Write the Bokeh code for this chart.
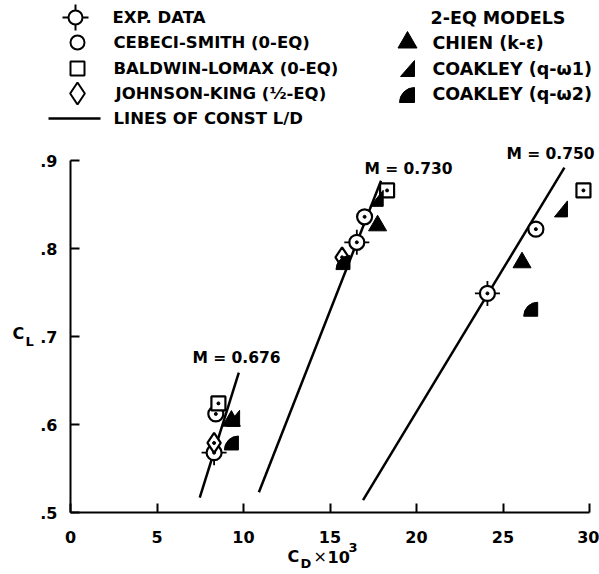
from math import pi
from bokeh.plotting import figure
from bokeh.models import Range1d, FixedTicker, CustomJSTickFormatter, LinearAxis
from bokeh.embed import file_html
from bokeh.resources import INLINE
from bokeh.core.properties import value

# ---------------- data (C_D x 10^3, C_L) ----------------
mach_labels = ["M = 0.676", "M = 0.730", "M = 0.750"]
exp_cd = [8.3, 16.55, 24.1]
exp_cl = [0.568, 0.807, 0.749]
cebeci_cd = [8.4, 17.0, 26.9]
cebeci_cl = [0.612, 0.836, 0.822]
baldwin_cd = [8.55, 18.3, 29.65]
baldwin_cl = [0.624, 0.866, 0.866]
jk_cd = [8.3, 15.7]
jk_cl = [0.579, 0.790]
chien_cd = [9.3, 17.75, 26.1]
chien_cl = [0.604, 0.826, 0.784]
coak1_cd = [9.4, 17.7, 28.35]
coak1_cl = [0.607, 0.857, 0.845]
coak2_cd = [9.3, 15.75, 26.6]
coak2_cl = [0.579, 0.784, 0.731]
ld_cd0 = [7.47, 10.89, 16.91]
ld_cl0 = [0.517, 0.523, 0.514]
ld_cd1 = [9.73, 17.95, 28.55]
ld_cl1 = [0.659, 0.877, 0.892]
x_ticks = [0, 5, 10, 15, 20, 25, 30]
y_ticks = [0.5, 0.6, 0.7, 0.8, 0.9]

FONT = value("DejaVu Sans")

# ---------------- canvas geometry ----------------
W, H = 599, 574
PPX = 519 / 30          # pixels per C_D unit
PPY = 352 / 0.4         # pixels per C_L unit
XS = -70 / PPX
XE = XS + W / PPX
YS = 0.5 - 62 / PPY
YE = YS + H / PPY

def dx(px):
    return XS + px / PPX

def dy(py):
    return YE - py / PPY

p = figure(width=W, height=H, x_range=Range1d(XS, XE), y_range=Range1d(YS, YE),
           x_axis_location=None, y_axis_location=None,
           toolbar_location=None, output_backend="svg", min_border=0)
p.outline_line_color = None
p.grid.visible = False

xax = LinearAxis(fixed_location=0.5, bounds=(0, 30), ticker=FixedTicker(ticks=x_ticks))
yax = LinearAxis(fixed_location=0, bounds=(0.5, 0.9), ticker=FixedTicker(ticks=y_ticks),
                 formatter=CustomJSTickFormatter(code="return tick.toFixed(1).slice(1);"))
for ax in (xax, yax):
    ax.axis_line_width = 2
    ax.major_tick_line_width = 2
    ax.major_tick_in = 9
    ax.major_tick_out = 0
    ax.minor_tick_line_color = None
    ax.major_label_text_font = "DejaVu Sans"
    ax.major_label_text_font_size = "16px"
    ax.major_label_text_font_style = "bold"
    ax.major_label_text_color = "black"
    ax.axis_line_color = "black"
    ax.major_tick_line_color = "black"
xax.major_label_standoff = 18
yax.major_label_standoff = 13
p.add_layout(xax, "below")
p.add_layout(yax, "left")

# lines of constant L/D
p.segment(ld_cd0, ld_cl0, ld_cd1, ld_cl1, line_color="black", line_width=2.5)

# exp data
p.scatter(exp_cd, exp_cl, marker="cross", size=25, line_color="black", line_width=1.8)
p.scatter(exp_cd, exp_cl, marker="circle", size=15, fill_color="white", line_color="black", line_width=2.2)
# zero / half equation models
p.scatter(cebeci_cd, cebeci_cl, marker="circle", size=15, fill_color="white", line_color="black", line_width=2.2)
p.scatter(baldwin_cd, baldwin_cl, marker="square", size=14, fill_color="white", line_color="black", line_width=2.2)
p.scatter(jk_cd, jk_cl, marker="diamond", size=20, fill_color="white", line_color="black", line_width=2.2)
for xs_, ys_ in ((exp_cd, exp_cl), (cebeci_cd, cebeci_cl), (baldwin_cd, baldwin_cl), (jk_cd, jk_cl)):
    p.scatter(xs_, ys_, marker="circle", size=3, fill_color="black", line_color="black")

# two-equation models
p.scatter(chien_cd, chien_cl, marker="triangle", size=18, fill_color="black", line_color="black")
tw, th = 13 / PPX, 16 / PPY
p.patches([[x - tw / 2, x + tw / 2, x + tw / 2] for x in coak1_cd],
          [[y - th / 2, y - th / 2, y + th / 2] for y in coak1_cl],
          fill_color="black", line_color="black")
r = 14
p.wedge([x + (r / 2) / PPX for x in coak2_cd], [y - (r / 2) / PPY for y in coak2_cl],
        radius=r, radius_units="screen", start_angle=pi / 2, end_angle=pi,
        fill_color="black", line_color="black")

# Mach labels
mach_px = [236, 408, 550]
mach_py = [357, 168, 153]
p.text([dx(v) for v in mach_px], [dy(v) for v in mach_py], text=mach_labels, text_font=FONT,
       text_font_size="15.5px", text_font_style="bold", text_align="center",
       text_baseline="middle", text_color="black")

# axis titles (with sub / superscripts)
def txt(px, py, t, size="16px", style="bold"):
    p.text([dx(px)], [dy(py)], text=[t], text_font=FONT, text_font_size=size,
           text_font_style=style, text_align="left", text_baseline="middle", text_color="black")

txt(12, 333, "C")
txt(25, 341, "L", "13px")
txt(287, 556, "C")
txt(300, 563, "D", "13px")
txt(313, 556, "\u00d7", "16px", "normal")
txt(327, 556, "10")
txt(348, 547, "3", "13px")

# ---------------- legend (drawn in the figure, positions in canvas pixels) ----------------
p.scatter([dx(75)], [dy(17)], marker="cross", size=26, line_color="black", line_width=2)
p.scatter([dx(75)], [dy(17)], marker="circle", size=14, fill_color="white", line_color="black", line_width=2)
p.scatter([dx(77)], [dy(42)], marker="circle", size=14, fill_color="white", line_color="black", line_width=2)
p.scatter([dx(77)], [dy(68)], marker="square", size=14, fill_color="white", line_color="black", line_width=2)
p.scatter([dx(77)], [dy(93)], marker="diamond", size=22, fill_color="white", line_color="black", line_width=2)
p.segment([dx(48)], [dy(118)], [dx(100)], [dy(118)], line_color="black", line_width=2.5)
p.scatter([dx(407)], [dy(42)], marker="triangle", size=19, fill_color="black", line_color="black")
p.patches([[dx(400), dx(414), dx(414)]], [[dy(76), dy(76), dy(60)]], fill_color="black", line_color="black")
p.wedge([dx(414)], [dy(102)], radius=15, radius_units="screen", start_angle=pi / 2, end_angle=pi,
        fill_color="black", line_color="black")

left_texts = ["EXP. DATA", "CEBECI-SMITH (0-EQ)", "BALDWIN-LOMAX (0-EQ)",
              "JOHNSON-KING (\u00bd-EQ)", "LINES OF CONST L/D"]
left_x = [112, 113, 113, 115, 113]
left_y = [17, 42, 68, 93, 118]
p.text([dx(v) for v in left_x], [dy(v) for v in left_y], text=left_texts, text_font=FONT,
       text_font_size="16.5px", text_font_style="bold", text_align="left", text_baseline="middle",
       text_color="black")
right_texts = ["2-EQ MODELS", "CHIEN (k-\u03b5)", "COAKLEY (q-\u03c91)", "COAKLEY (q-\u03c92)"]
right_x = [430, 432, 432, 432]
right_y = [17, 42, 68, 93]
p.text([dx(v) for v in right_x], [dy(v) for v in right_y], text=right_texts, text_font=FONT,
       text_font_size="17.5px", text_font_style="bold", text_align="left", text_baseline="middle",
       text_color="black")

open("out.html", "w").write(file_html(p, INLINE))
